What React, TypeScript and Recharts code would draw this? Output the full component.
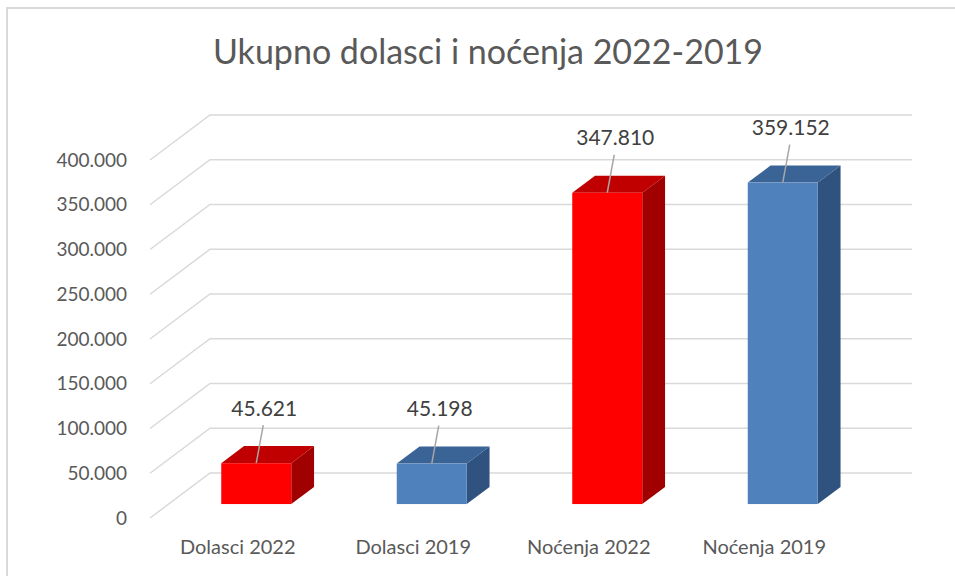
import { BarChart, Bar, XAxis, YAxis, CartesianGrid } from "recharts";

const categories = ["Dolasci 2022", "Dolasci 2019", "Noćenja 2022", "Noćenja 2019"];
const values = [45621, 45198, 347810, 359152];
const yTicks = [0, 50000, 100000, 150000, 200000, 250000, 300000, 350000, 400000];

const data = categories.map((name, i) => ({ name, value: values[i] }));

// oblique 3D projection: back wall offset
const DX = 60;
const DY = 45;
const F1 = 0.31;
const F2 = 0.69;

const RED = { front: "#ff0000", top: "#c00000", side: "#a00000" };
const BLUE = { front: "#4f81bd", top: "#3a6396", side: "#30527f" };

const FONT = "Lato, 'Open Sans', sans-serif";

function fmt(n: number) {
  return String(n).replace(/\B(?=(\d{3})+(?!\d))/g, ".");
}

function GridLine(props: any) {
  const { x1, y1, x2 } = props;
  return (
    <path
      key={props.key}
      d={`M${x1},${y1} L${x1 + DX},${y1 - DY} L${x2 + DX},${y1 - DY}`}
      fill="none"
      stroke="#d9d9d9"
      strokeWidth={1.5}
    />
  );
}

function Box(props: any) {
  const { x, y, width, height, index, payload } = props;
  const c = index % 2 === 0 ? RED : BLUE;
  const fx = x + F1 * DX;
  const fy = y - F1 * DY;
  const ddx = (F2 - F1) * DX;
  const ddy = (F2 - F1) * DY;
  const w = width;
  const h = height;
  const cx = fx + w / 2;
  return (
    <g>
      <polygon
        points={`${fx + w},${fy} ${fx + w + ddx},${fy - ddy} ${fx + w + ddx},${fy + h - ddy} ${fx + w},${fy + h}`}
        fill={c.side}
      />
      <polygon
        points={`${fx},${fy} ${fx + ddx},${fy - ddy} ${fx + w + ddx},${fy - ddy} ${fx + w},${fy}`}
        fill={c.top}
      />
      <rect x={fx} y={fy} width={w} height={h} fill={c.front} />
      <line x1={cx} y1={fy} x2={cx + 7} y2={fy - 38} stroke="#a6a6a6" strokeWidth={1.5} />
      <text
        x={cx + 8}
        y={fy - 56}
        textAnchor="middle"
        dominantBaseline="central"
        fontFamily={FONT}
        fontSize={21}
        fill="#404040"
      >
        {fmt(payload.value)}
      </text>
    </g>
  );
}

export default function App() {
  return (
    <div
      style={{
        position: "absolute",
        left: 0,
        top: 0,
        width: 955,
        height: 576,
        overflow: "hidden",
        background: "#fff",
      }}
    >
      <div
        style={{
          position: "absolute",
          left: 6,
          top: 7,
          width: 1000,
          height: 1000,
          border: "2px solid #d9d9d9",
        }}
      />
      <div
        style={{
          position: "absolute",
          left: 488,
          top: 30,
          transform: "translateX(-50%)",
          whiteSpace: "nowrap",
          fontFamily: FONT,
          fontSize: 34,
          fontWeight: 400,
          color: "#595959",
          lineHeight: "42px",
        }}
      >
        Ukupno dolasci i noćenja 2022-2019
      </div>
      <div style={{ position: "absolute", left: 0, top: 0 }}>
        <BarChart
          width={955}
          height={576}
          data={data}
          margin={{ top: 160, right: 103, bottom: 28, left: 50 }}
          barCategoryGap="30%"
        >
          <CartesianGrid vertical={false} horizontal={(p: any) => <GridLine {...p} />} />
          <XAxis
            dataKey="name"
            axisLine={false}
            tickLine={false}
            tickSize={0}
            tickMargin={22}
            height={30}
            interval={0}
            tick={{ fontFamily: FONT, fontSize: 20, fill: "#595959" }}
          />
          <YAxis
            width={100}
            domain={[0, 400000]}
            ticks={yTicks}
            axisLine={false}
            tickLine={false}
            tickSize={0}
            tickMargin={23}
            tickFormatter={(v: number) => fmt(v)}
            tick={{ fontFamily: FONT, fontSize: 19, fill: "#595959" }}
          />
          <Bar dataKey="value" shape={(p: any) => <Box {...p} />} isAnimationActive={false} />
        </BarChart>
      </div>
    </div>
  );
}
